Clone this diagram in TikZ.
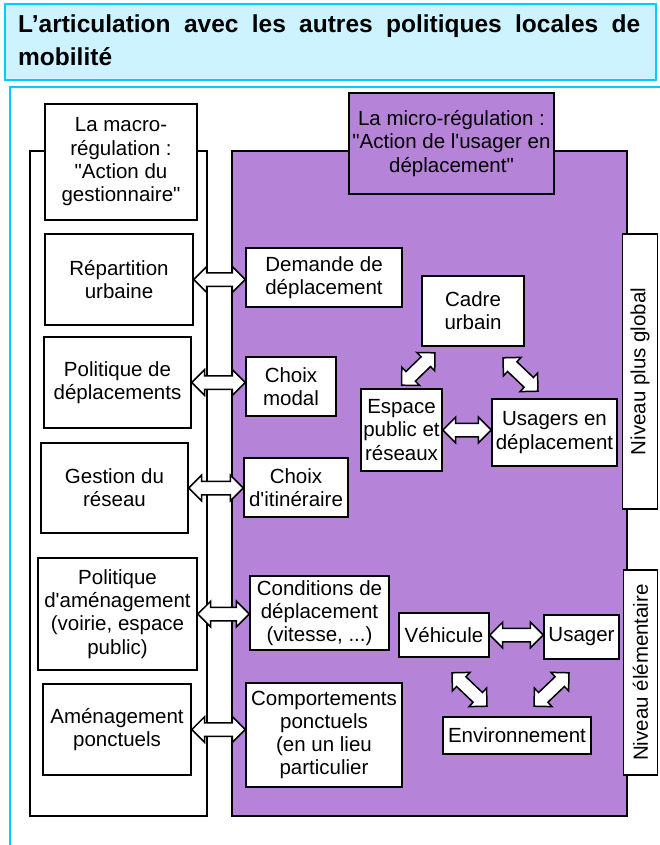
\documentclass[tikz,border=0pt]{standalone}
\usepackage{fontspec}
\setmainfont{Liberation Sans}
\usepackage{tikz}
\usetikzlibrary{calc,shapes.arrows}
\definecolor{microviolet}{RGB}{181,132,217}
\definecolor{framecyan}{RGB}{0,204,255}
\definecolor{titlecyan}{RGB}{204,243,255}
\tikzset{
  panel/.style={draw, line width=2.4pt},
  regbox/.style={draw, line width=1.6pt, fill=white, align=center, inner sep=1pt},
  microbox/.style={regbox, fill=microviolet},
  levelbox/.style={regbox, rotate=90},
  blockarrow/.style={double arrow, draw, line width=1.5pt, fill=white, inner xsep=0pt, inner ysep=6pt,
    double arrow head extend=6pt, double arrow tip angle=90, double arrow head indent=0pt}
}
% hollow two-headed arrow between two points
\newcommand{\dblarrow}[2]{%
  \path let \p1=(#1), \p2=(#2), \n1={atan2(\y2-\y1,\x2-\x1)}, \n2={veclen(\x2-\x1,\y2-\y1)} in
    node[blockarrow, minimum height=\n2, rotate=\n1] at ($(\p1)!0.5!(\p2)$) {};%
}

\begin{document}
\begin{tikzpicture}[x=1pt, y=-1pt, every node/.style={font=\fontsize{20.5}{23.3}\selectfont}]
  \useasboundingbox (0,0) rectangle (659,845);
  % title
  \draw[framecyan, fill=titlecyan, line width=2pt] (5,4) rectangle (656,80);
  \node[anchor=north west, text width=622pt, align=justify, inner sep=0pt,
    font=\fontsize{24.5}{33}\selectfont\bfseries] (title) at (18,15)
    {\noindent L’articulation avec les autres politiques locales de \mbox{mobilité}};
  \draw[framecyan, line width=2.4pt] (10,850) -- (10,87) -- (665,87);

  % the two levels
  \draw[panel, fill=white] (30,151) rectangle (207,816);
  \draw[panel, fill=microviolet] (232,151) rectangle (627,816);

  \node[regbox, minimum width=152pt, minimum height=116pt] (macro) at (121,162)
    {La macro-\\régulation :\\\textquotedbl Action du\\gestionnaire\textquotedbl};
  \node[microbox, minimum width=205pt, minimum height=101pt] (micro) at (451.5,143.5)
    {La micro-régulation :\\\textquotedbl Action de l\textquotesingle usager en\\déplacement\textquotedbl};

  % macro side
  \node[regbox, minimum width=148pt, minimum height=91pt] (rep) at (119,279.5) {Répartition\\urbaine};
  \node[regbox, minimum width=147pt, minimum height=91pt] (poldep) at (117.5,382.5) {Politique de\\déplacements};
  \node[regbox, minimum width=147pt, minimum height=90pt] (gest) at (114.5,488) {Gestion du\\réseau};
  \node[regbox, minimum width=159pt, minimum height=112pt] (polam) at (117.5,614)
    {Politique\\d\textquotesingle aménagement\\(voirie, espace\\public)};
  \node[regbox, minimum width=148pt, minimum height=91pt] (amp) at (117,729.5) {Aménagement\\ponctuels};

  % micro side
  \node[regbox, minimum width=156pt, minimum height=59pt] (dem) at (324,277.5) {Demande de\\déplacement};
  \node[regbox, minimum width=90pt, minimum height=59pt] (modal) at (291,386.5) {Choix\\modal};
  \node[regbox, minimum width=104pt, minimum height=59pt] (itin) at (296,487.5) {Choix\\d\textquotesingle itinéraire};
  \node[regbox, minimum width=139pt, minimum height=74pt] (cond) at (319.5,613)
    {Conditions de\\déplacement\\(vitesse, ...)};
  \node[regbox, minimum width=156pt, minimum height=104pt] (comp) at (324,735)
    {Comportements\\ponctuels\\(en un lieu\\particulier};

  \node[regbox, minimum width=102pt, minimum height=70pt] (cad) at (473,311) {Cadre\\urbain};
  \node[regbox, minimum width=81pt, minimum height=82pt] (esp) at (401.5,430) {Espace\\public et\\réseaux};
  \node[regbox, minimum width=125pt, minimum height=67pt] (usa) at (554.5,432.5) {Usagers en\\déplacement};

  \node[regbox, minimum width=90pt, minimum height=44pt] (veh) at (444,635) {Véhicule};
  \node[regbox, minimum width=75pt, minimum height=44pt] (usg) at (581.5,637) {Usager};
  \node[regbox, minimum width=148pt, minimum height=37pt] (env) at (517,735.5) {Environnement};

  \node[levelbox, minimum width=275pt, minimum height=35pt] (glob) at (640,371.5) {Niveau plus global};
  \node[levelbox, minimum width=205pt, minimum height=34pt] (elem) at (640.5,672.5) {Niveau élémentaire};

  % links
  \dblarrow{rep.east}{rep.east -| dem.west}
  \dblarrow{poldep.east}{poldep.east -| modal.west}
  \dblarrow{gest.east}{gest.east -| itin.west}
  \dblarrow{polam.east}{polam.east -| cond.west}
  \dblarrow{amp.east}{amp.east -| comp.west}

  \dblarrow{[shift={(-38,6)}]cad.south}{[shift={(0,-3)}]esp.north}
  \dblarrow{[shift={(30,11)}]cad.south}{[shift={(-16.5,-7)}]usa.north}
  \dblarrow{esp.east}{esp.east -| usa.west}

  \dblarrow{veh.east}{veh.east -| usg.west}
  \dblarrow{[shift={(8,15)}]veh.south}{[shift={(-30,-10)}]env.north}
  \dblarrow{[shift={(-12.5,13)}]usg.south}{[shift={(17,-10)}]env.north}
\end{tikzpicture}
\end{document}
